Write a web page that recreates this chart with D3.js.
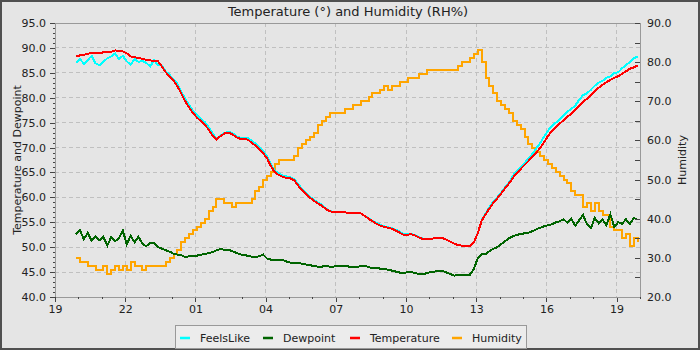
<!DOCTYPE html>
<html>
<head>
<meta charset="utf-8">
<script src="https://cdn.jsdelivr.net/npm/d3@7"></script>
<style>
  html, body { margin: 0; padding: 0; background: #e5e5e5; }
  svg { display: block; font-family: "DejaVu Sans", sans-serif; }
</style>
</head>
<body>
<svg id="chart" width="700" height="350"></svg>
<script>
// ---- chart data ----------------------------------------------------------
const seriesNames  = ["FeelsLike", "Dewpoint", "Temperature", "Humidity"];
const seriesColors = ["#00ffff", "#006400", "#ff0000", "#ffa500"];

// hour labels for the 3-hourly ticks, 19:00 through 19:00 next day
const xTickLabels = ["19", "22", "01", "04", "07", "10", "13", "16", "19"];
const leftTicks   = [40, 45, 50, 55, 60, 65, 70, 75, 80, 85, 90, 95];
const rightTicks  = [20, 30, 40, 50, 60, 70, 80, 90];

// readings start at 19:54 and are logged every 10 minutes
const sampleStart = new Date(2024, 0, 1, 19, 54);
const sampleMinutes = 10;

const temperature = [
  88.3,88.5,88.6,88.8,89.0,89.0,89.0,89.1,89.2,89.2,
  89.5,89.4,89.3,88.9,88.3,88.1,88.0,87.8,87.6,87.5,
  87.4,87.3,86.3,85.1,84.3,83.4,82.3,80.8,79.3,78.0,
  76.9,76.0,75.3,74.6,73.6,72.4,71.6,72.3,72.8,73.0,
  72.7,72.1,71.8,71.8,71.6,71.0,70.4,69.7,68.8,67.8,
  66.2,65.0,64.5,64.1,63.9,63.8,63.4,62.3,61.4,60.6,
  59.9,59.3,58.8,58.3,57.7,57.2,57.1,57.1,57.1,57.0,
  56.8,56.8,56.8,56.8,56.3,55.7,55.2,54.7,54.3,54.1,
  53.9,53.7,53.3,52.9,52.5,52.5,52.6,52.3,51.9,51.6,
  51.6,51.7,51.8,51.9,51.8,51.5,51.1,50.7,50.4,50.3,
  50.3,50.3,50.9,52.8,55.3,56.6,57.8,58.9,59.8,60.8,
  61.8,62.8,63.9,64.9,65.7,66.5,67.3,68.1,69.0,69.9,
  71.1,72.3,73.3,74.0,74.8,75.5,76.2,76.8,77.6,78.4,
  79.2,79.8,80.5,81.3,82.0,82.6,83.1,83.6,84.0,84.3,
  84.8,85.3,85.8,86.1,86.5
];

const feelsLike = [
  87.0,87.8,86.8,87.6,88.4,86.9,86.5,87.2,87.9,88.3,
  88.9,87.8,88.4,87.3,86.6,87.8,87.2,87.4,87.0,86.3,
  87.5,86.6,86.5,85.3,84.6,83.6,82.8,81.2,79.8,78.5,
  77.4,76.5,75.8,75.1,74.1,72.9,71.8,72.4,72.9,73.1,
  73.0,72.3,72.0,72.0,71.9,71.4,70.8,70.1,69.2,68.2,
  66.6,65.3,64.8,64.4,64.2,64.0,63.6,62.6,61.7,60.9,
  60.1,59.5,59.0,58.5,57.8,57.3,57.1,57.1,57.1,57.0,
  56.8,56.8,56.8,56.8,56.3,55.8,55.3,54.9,54.5,54.2,
  54.0,53.8,53.5,53.1,52.7,52.6,52.6,52.4,52.0,51.7,
  51.6,51.7,51.8,51.9,51.8,51.5,51.1,50.7,50.4,50.3,
  50.3,50.3,50.9,52.8,55.4,56.8,58.0,59.2,60.0,61.0,
  62.0,63.0,64.3,65.3,66.0,66.9,67.8,68.7,69.8,70.9,
  72.2,73.4,74.3,75.0,75.6,76.4,77.2,77.8,78.4,79.6,
  80.5,80.9,81.6,82.4,83.0,83.4,84.0,84.3,85.0,85.1,
  85.9,86.5,87.2,87.9,88.3
];

const dewpoint = [
  52.6,53.4,51.6,52.9,51.3,52.2,51.4,52.1,50.3,52.0,
  51.2,51.8,53.3,50.6,52.3,51.0,52.1,50.7,50.2,50.8,
  50.9,50.0,49.7,49.4,49.1,48.7,48.5,48.4,48.0,48.2,
  48.3,48.3,48.5,48.6,48.8,49.0,49.4,49.6,49.5,49.5,
  49.2,48.9,48.6,48.4,48.3,48.1,48.0,48.2,48.5,47.7,
  47.5,47.5,47.4,47.4,47.1,46.9,46.8,46.8,46.7,46.5,
  46.4,46.2,46.1,46.1,46.2,46.1,46.1,46.2,46.3,46.3,
  46.1,46.0,46.0,46.2,46.3,46.0,45.8,45.8,45.7,45.6,
  45.5,45.3,45.1,44.9,44.8,45.0,45.0,44.8,44.6,44.6,
  44.8,45.0,45.1,45.3,45.2,44.9,44.6,44.3,44.4,44.4,
  44.5,44.5,45.6,47.8,48.6,48.6,49.2,49.7,50.0,50.6,
  51.2,51.8,52.2,52.5,52.6,52.8,52.9,53.2,53.6,53.9,
  54.2,54.4,54.6,55.0,55.2,55.6,54.9,55.7,54.3,55.4,
  56.5,54.6,53.8,55.9,54.8,55.5,54.4,56.6,54.1,55.0,
  54.7,55.6,54.6,55.9,55.5
];

const humidity = [
  30,29,29,28,28,27,27,28,26,27,
  28,27,28,27,29,28,28,27,28,28,
  28,28,28,29,30,31,32,34,35,36,
  37,38,39,40,42,43,45,45,44,44,
  43,44,44,44,44,45,47,48,50,51,
  52,54,55,55,55,55,56,58,59,60,
  61,62,64,65,66,67,67,67,67,68,
  68,69,69,70,70,71,72,72,73,74,
  73,74,74,75,75,76,76,76,77,77,
  78,78,78,78,78,78,78,78,79,80,
  80,81,82,83,80,76,74,72,70,69,
  68,67,65,64,63,61,59,58,57,56,
  55,54,53,52,51,50,49,47,46,46,
  43,44,42,44,42,41,41,38,37,37,
  35,36,33,35,34
];

// ---- layout --------------------------------------------------------------
const W = 700, H = 350;
const plot = { left: 55, right: 640, top: 23, bottom: 297 };
const bg = "#e5e5e5";

const svg = d3.select("#chart");

// outer frame
svg.append("rect").attr("x", 0).attr("y", 0).attr("width", W).attr("height", H).attr("fill", "#505050");
svg.append("rect").attr("x", 2).attr("y", 2).attr("width", W - 4).attr("height", H - 4).attr("fill", bg);

// ---- scales --------------------------------------------------------------
const t0 = new Date(2024, 0, 1, 19, 0);
const t1 = d3.timeHour.offset(t0, 25);
const x = d3.scaleTime().domain([t0, t1]).range([plot.left, plot.right]);
const yL = d3.scaleLinear().domain([40, 95]).range([plot.bottom, plot.top]);
const yR = d3.scaleLinear().domain([20, 90]).range([plot.bottom, plot.top]);

const times = temperature.map((_, i) => d3.timeMinute.offset(sampleStart, i * sampleMinutes));
const xMajor = xTickLabels.map((_, i) => d3.timeHour.offset(t0, i * 3));
const xMinor = d3.range(0, 26).filter(h => h % 3 !== 0).map(h => d3.timeHour.offset(t0, h));

// ---- grid ----------------------------------------------------------------
const grid = svg.append("g")
  .attr("stroke", "#c0c0c0").attr("stroke-width", 1)
  .attr("stroke-dasharray", "4,3").attr("shape-rendering", "crispEdges");
grid.selectAll("line.h").data(leftTicks.filter(v => v > 40 && v < 95)).join("line")
  .attr("class", "h")
  .attr("x1", plot.left).attr("x2", plot.right)
  .attr("y1", d => yL(d)).attr("y2", d => yL(d));
grid.selectAll("line.v").data(xMajor.slice(1)).join("line")
  .attr("class", "v")
  .attr("y1", plot.top).attr("y2", plot.bottom)
  .attr("x1", d => x(d)).attr("x2", d => x(d));

// ---- series --------------------------------------------------------------
const lineL = values => d3.line()
  .x((d, i) => x(times[i]))
  .y(d => yL(d))(values);
const lineR = values => d3.line()
  .curve(d3.curveStepAfter)
  .x((d, i) => x(times[i]))
  .y(d => yR(d))(values);

// lines are drawn without anti-aliasing, giving the hard pixel edges of a logger plot
const lines = svg.append("g").attr("fill", "none").attr("stroke-width", 2)
  .attr("stroke-linejoin", "miter").attr("shape-rendering", "crispEdges");
lines.append("path").attr("d", lineR(humidity)).attr("stroke", seriesColors[3]);
lines.append("path").attr("d", lineL(feelsLike)).attr("stroke", seriesColors[0]);
lines.append("path").attr("d", lineL(dewpoint)).attr("stroke", seriesColors[1]);
lines.append("path").attr("d", lineL(temperature)).attr("stroke", seriesColors[2]);

// plot border
svg.append("rect")
  .attr("x", plot.left).attr("y", plot.top)
  .attr("width", plot.right - plot.left).attr("height", plot.bottom - plot.top)
  .attr("fill", "none").attr("stroke", "#999").attr("shape-rendering", "crispEdges");

// ---- axes ----------------------------------------------------------------
function styleAxis(g) {
  g.attr("font-family", "DejaVu Sans, sans-serif").attr("font-size", 11)
   .attr("shape-rendering", "crispEdges");
  g.select(".domain").attr("stroke", "#999");
  g.selectAll(".tick line").attr("stroke", "#444");
  g.selectAll(".tick text").attr("fill", "#222");
}

svg.append("g").attr("transform", `translate(${plot.left},0)`)
  .call(d3.axisLeft(yL).tickValues(leftTicks).tickFormat(d3.format(".1f"))
    .tickSize(5).tickSizeOuter(0).tickPadding(4))
  .call(styleAxis);
svg.append("g").attr("transform", `translate(${plot.left},0)`)
  .call(d3.axisLeft(yL).tickValues(d3.range(40, 96).filter(v => v % 5 !== 0))
    .tickFormat("").tickSize(2).tickSizeOuter(0))
  .call(styleAxis);

svg.append("g").attr("transform", `translate(${plot.right},0)`)
  .call(d3.axisRight(yR).tickValues(rightTicks).tickFormat(d3.format(".1f"))
    .tickSizeInner(-5).tickSizeOuter(0).tickPadding(7))
  .call(styleAxis);
svg.append("g").attr("transform", `translate(${plot.right},0)`)
  .call(d3.axisRight(yR).tickValues(d3.range(25, 90, 10))
    .tickFormat("").tickSizeInner(-5).tickSizeOuter(0))
  .call(styleAxis);

svg.append("g").attr("transform", `translate(0,${plot.bottom})`)
  .call(d3.axisBottom(x).tickValues(xMajor).tickFormat((d, i) => xTickLabels[i])
    .tickSize(5).tickSizeOuter(0).tickPadding(3))
  .call(styleAxis);
svg.append("g").attr("transform", `translate(0,${plot.bottom})`)
  .call(d3.axisBottom(x).tickValues(xMinor).tickFormat("").tickSize(2).tickSizeOuter(0))
  .call(styleAxis);

// ---- titles --------------------------------------------------------------
svg.append("text")
  .attr("x", 348).attr("y", 11).attr("text-anchor", "middle")
  .attr("dominant-baseline", "central").attr("font-size", 13).attr("fill", "#222")
  .text("Temperature (°) and Humidity (RH%)");

svg.append("text")
  .attr("transform", `translate(17,${(plot.top + plot.bottom) / 2}) rotate(-90)`)
  .attr("text-anchor", "middle").attr("dominant-baseline", "central")
  .attr("font-size", 11).attr("fill", "#222")
  .text("Temperature and Dewpoint");

svg.append("text")
  .attr("transform", `translate(682,${(plot.top + plot.bottom) / 2}) rotate(-90)`)
  .attr("text-anchor", "middle").attr("dominant-baseline", "central")
  .attr("font-size", 11).attr("fill", "#222")
  .text("Humidity");

// ---- legend --------------------------------------------------------------
const legend = svg.append("g");
legend.append("rect")
  .attr("x", 175.5).attr("y", 325.5).attr("width", 351).attr("height", 23)
  .attr("fill", "#ececec").attr("stroke", "#999");
const swatchX = [180, 263, 350, 452];
const items = legend.selectAll("g.item").data(seriesNames).join("g")
  .attr("class", "item")
  .attr("transform", (d, i) => `translate(${swatchX[i]},338)`);
items.append("line")
  .attr("x1", 0).attr("x2", 10).attr("y1", 0).attr("y2", 0)
  .attr("stroke", (d, i) => seriesColors[i]).attr("stroke-width", 2.5);
items.append("text")
  .attr("x", 20).attr("y", 0).attr("dominant-baseline", "central")
  .attr("font-size", 11).attr("fill", "#222")
  .text(d => d);
</script>
</body>
</html>
